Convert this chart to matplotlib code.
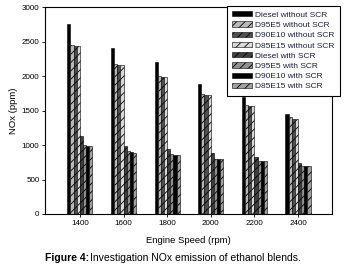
import numpy as np
import matplotlib.pyplot as plt

speeds = ['1400', '1600', '1800', '2000', '2200', '2400']
series = ['Diesel without SCR', 'D95E5 without SCR', 'D90E10 without SCR', 'D85E15 without SCR',
          'Diesel with SCR', 'D95E5 with SCR', 'D90E10 with SCR', 'D85E15 with SCR']
diesel_wo = [2760, 2410, 2200, 1890, 1700, 1450]
d95e5_wo = [2450, 2170, 2000, 1740, 1580, 1400]
d90e10_wo = [2430, 2160, 1990, 1720, 1570, 1380]
d85e15_wo = [2440, 2160, 1990, 1720, 1570, 1380]
diesel_w = [1130, 990, 940, 880, 830, 740]
d95e5_w = [1000, 910, 870, 800, 775, 700]
d90e10_w = [990, 900, 860, 800, 770, 700]
d85e15_w = [990, 890, 860, 800, 770, 700]
values = [diesel_wo, d95e5_wo, d90e10_wo, d85e15_wo, diesel_w, d95e5_w, d90e10_w, d85e15_w]

styles = [('black', ''), ('#b8b8b8', '////'), ('#505050', '////'), ('#d8d8d8', '////'),
          ('#404040', '////'), ('#909090', '////'), ('black', ''), ('#a0a0a0', '////')]

plt.rcParams['font.family'] = ['Liberation Sans', 'DejaVu Sans']
plt.rcParams['hatch.linewidth'] = 0.6
plt.rcParams['hatch.color'] = 'white'

fig = plt.figure(figsize=(3.5, 2.7), dpi=100)
ax = fig.add_axes([45 / 350, 1 - 214 / 270, 287 / 350, 207 / 270])

x = np.arange(len(speeds))
w = 0.072
for i, (name, vals) in enumerate(zip(series, values)):
    fc, h = styles[i]
    ax.bar(x + (i - 3.5) * w, vals, w, color=fc, hatch=h, edgecolor='black',
           linewidth=0.4, label=name)

ax.set_xlim(-0.8, 5.78)
ax.set_ylim(0, 3000)
ax.set_yticks(range(0, 3001, 500))
ax.set_xticks(x)
ax.set_xticklabels(speeds)
ax.tick_params(labelsize=5.8, length=2, width=0.6, pad=2)
for s in ax.spines.values():
    s.set_linewidth(0.8)
ax.set_xlabel('Engine Speed (rpm)', fontsize=6.8, labelpad=7)
ax.set_ylabel('NOx (ppm)', fontsize=6.8, labelpad=3)

leg = ax.legend(loc='upper right', bbox_to_anchor=(344 / 350, 1 - 2 / 270),
                bbox_transform=fig.transFigure, fontsize=6, frameon=True,
                fancybox=False, edgecolor='black', handlelength=2.4, handleheight=0.6,
                labelspacing=0.32, borderpad=0.6, handletextpad=0.4)
leg.get_frame().set_linewidth(0.8)
leg.get_frame().set_alpha(1)
for t in leg.get_texts():
    t.set_color('#1f1f3f')

fig.text(45 / 350, 1 - 258 / 270, 'Figure 4:', fontsize=7.5, fontweight='bold',
         ha='left', va='center')
fig.text(90 / 350, 1 - 258 / 270, 'Investigation NOx emission of ethanol blends.',
         fontsize=7.5, ha='left', va='center')

fig.savefig('out.png', dpi=100)
